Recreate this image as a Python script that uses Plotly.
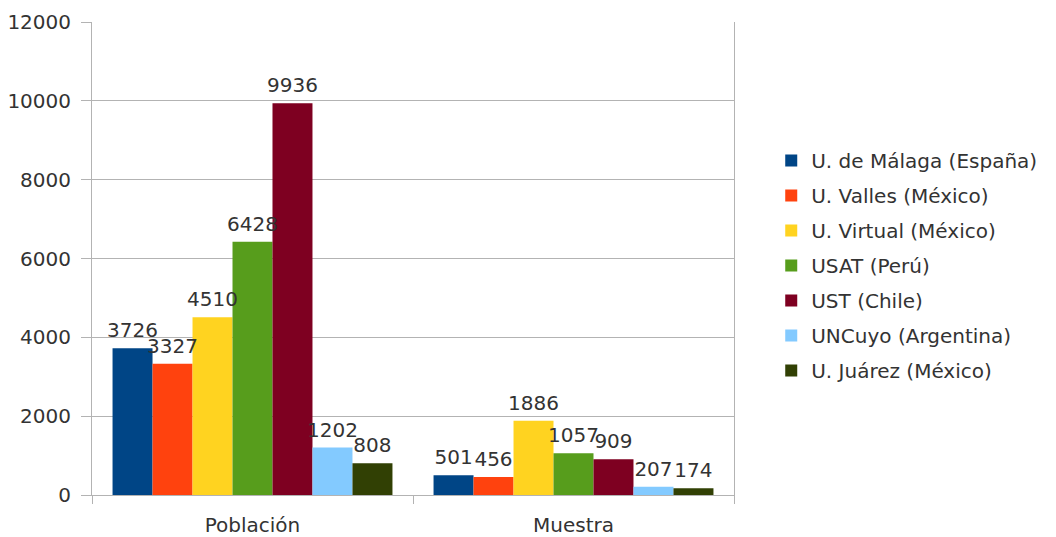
import plotly.graph_objects as go

categories = ["Población", "Muestra"]
series_names = [
    "U. de Málaga (España)",
    "U. Valles (México)",
    "U. Virtual (México)",
    "USAT (Perú)",
    "UST (Chile)",
    "UNCuyo (Argentina)",
    "U. Juárez (México)",
]
malaga = [3726, 501]
valles = [3327, 456]
virtual = [4510, 1886]
usat = [6428, 1057]
ust = [9936, 909]
uncuyo = [1202, 207]
juarez = [808, 174]
series_values = [malaga, valles, virtual, usat, ust, uncuyo, juarez]
colors = ["#004586", "#ff420e", "#ffd320", "#579d1c", "#7e0021", "#83caff", "#314004"]
y_ticks = [0, 2000, 4000, 6000, 8000, 10000, 12000]

FONT = "DejaVu Sans"
GAP = 0.128

fig = go.Figure()
for i, (name, vals, col) in enumerate(zip(series_names, series_values, colors)):
    fig.add_trace(go.Bar(
        x=categories, y=vals, name=name, legendgroup=f"g{i}",
        offsetgroup=f"g{i}",
        marker=dict(color=col, line=dict(width=0)),
    ))
# value labels drawn above all bars
for i, (name, vals) in enumerate(zip(series_names, series_values)):
    fig.add_trace(go.Scatter(
        x=categories, y=vals, mode="markers+text", legendgroup=f"g{i}",
        offsetgroup=f"g{i}", showlegend=False, hoverinfo="skip",
        marker=dict(size=8, opacity=0),
        text=[str(v) for v in vals], textposition="top center",
        textfont=dict(size=20, color="#333333", family=FONT),
        cliponaxis=False,
    ))

fig.update_layout(
    width=1056, height=537,
    margin=dict(l=92, r=322, t=22, b=42),
    barmode="group", bargap=GAP, bargroupgap=0,
    scattermode="group", scattergap=GAP,
    paper_bgcolor="white", plot_bgcolor="white",
    font=dict(family=FONT, size=20, color="#333333"),
    legend=dict(
        x=1.058, y=0.485, xanchor="left", yanchor="middle",
        font=dict(size=20, color="#333333", family=FONT),
        itemwidth=30, tracegroupgap=6,
        bgcolor="rgba(0,0,0,0)",
    ),
    showlegend=True,
)
fig.update_yaxes(
    range=[0, 12000], tickvals=y_ticks, ticktext=[str(t) for t in y_ticks],
    showgrid=True, gridcolor="#b3b3b3", gridwidth=1,
    showline=True, linecolor="#b3b3b3", linewidth=1, mirror=True,
    ticks="outside", ticklen=10, tickcolor="#b3b3b3",
    ticklabelstandoff=6, automargin=False,
    zeroline=False, tickfont=dict(size=20, color="#333333", family=FONT),
)
fig.update_xaxes(
    showline=True, linecolor="#b3b3b3", linewidth=1,
    ticks="outside", tickson="boundaries", ticklen=8, tickcolor="#b3b3b3",
    ticklabelstandoff=12, automargin=False,
    tickfont=dict(size=20, color="#333333", family=FONT),
)

fig.write_html("out.html")
